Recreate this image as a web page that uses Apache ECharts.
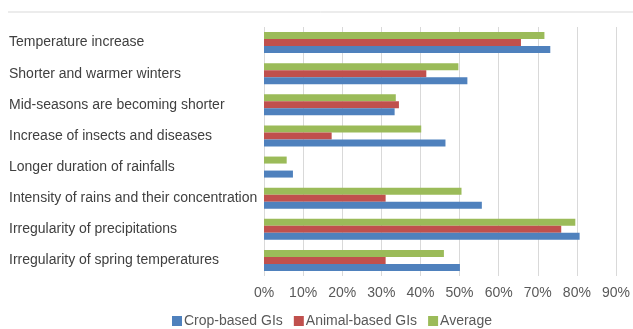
<!DOCTYPE html>
<html>
<head>
<meta charset="utf-8">
<script src="https://cdn.jsdelivr.net/npm/echarts@6/dist/echarts.min.js"></script>
<style>
  html, body { margin: 0; padding: 0; background: #fff; }
  #chart { width: 633px; height: 329px; }
</style>
</head>
<body>
<div id="chart"></div>
<script>
// categories, top to bottom
const categories = [
  'Temperature increase',
  'Shorter and warmer winters',
  'Mid-seasons are becoming shorter',
  'Increase of insects and diseases',
  'Longer duration of rainfalls',
  'Intensity of rains and their concentration',
  'Irregularity of precipitations',
  'Irregularity of spring temperatures'
];
// values in percent
const cropBased = [73.2, 52.0, 33.4, 46.4, 7.4, 55.7, 80.7, 50.1];
const animalBased = [65.7, 41.5, 34.5, 17.3, 0, 31.1, 76.0, 31.1];
const average = [71.7, 49.7, 33.7, 40.2, 5.8, 50.5, 79.6, 46.0];
const seriesNames = ['Crop-based GIs', 'Animal-based GIs', 'Average'];
const colors = ['#4F81BD', '#C0504D', '#9BBB59'];

const chart = echarts.init(document.getElementById('chart'), null, { renderer: 'canvas' });

const data = [cropBased, animalBased, average];

// series listed in reverse so that Average sits on top of each group
const series = data.map((d, i) => ({
  name: seriesNames[i],
  type: 'bar',
  data: d,
  itemStyle: { color: colors[i] },
  barWidth: 7,
  barGap: '0%'
})).reverse();

chart.setOption({
  animation: false,
  textStyle: { fontFamily: 'Liberation Sans, Arial, sans-serif' },
  grid: { left: 264, right: 13.5, top: 27, bottom: 53, containLabel: false },
  legend: {
    top: 309,
    left: 167,
    itemWidth: 10,
    itemHeight: 10,
    itemGap: 11,
    icon: 'rect',
    textStyle: { fontSize: 14, color: '#595959', padding: [0, 0, 0, -3] },
    data: seriesNames
  },
  xAxis: {
    type: 'value',
    min: 0,
    max: 90,
    interval: 10,
    axisLabel: { formatter: '{value}%', fontSize: 14, color: '#595959', margin: 10 },
    axisLine: { show: false },
    axisTick: { show: false },
    splitLine: { lineStyle: { color: '#d9d9d9', width: 1 } }
  },
  yAxis: {
    type: 'category',
    inverse: true,
    data: categories,
    axisLine: { show: false },
    axisTick: { show: false },
    axisLabel: { align: 'left', margin: 255, fontSize: 14, color: '#404040', padding: [4, 0, 0, 0] }
  },
  series: series,
  graphic: [{
    type: 'line',
    shape: { x1: 8, y1: 12, x2: 633, y2: 12 },
    style: { stroke: '#d9d9d9', lineWidth: 1 }
  }]
});
</script>
</body>
</html>
